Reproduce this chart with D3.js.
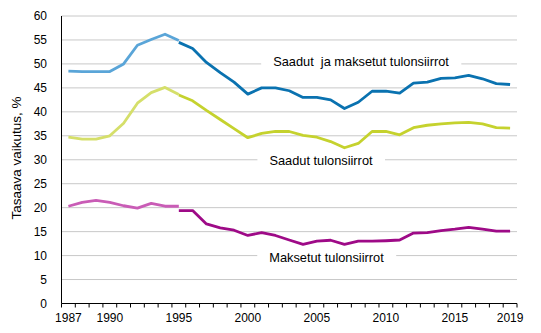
<!DOCTYPE html>
<html><head><meta charset="utf-8">
<script src="https://cdn.jsdelivr.net/npm/d3@7"></script>
<style>body{margin:0;background:#fff}svg{display:block;font-family:"Liberation Sans",Arial,sans-serif}</style>
</head><body><svg id="c" width="541" height="333"></svg>
<script>
const years = d3.range(1987, 2020);
const yTicks = [0,5,10,15,20,25,30,35,40,45,50,55,60];
const xLabels = [1987,1990,1995,2000,2005,2010,2015,2019];
// 1987-1995 (old series)
const totalOld = [48.5,48.4,48.4,48.4,50.0,53.9,55.1,56.2,54.9];
const receivedOld = [34.7,34.3,34.3,35.0,37.6,41.8,44.0,45.1,43.6];
const paidOld = [20.3,21.1,21.5,21.1,20.4,19.9,20.9,20.3,20.3];
// 1995-2019 (new series)
const totalNew = [54.5,53.2,50.3,48.2,46.2,43.7,45.0,45.0,44.4,43.0,43.0,42.5,40.7,42.0,44.3,44.3,43.9,46.0,46.2,47.0,47.1,47.6,46.9,45.9,45.7];
const receivedNew = [43.5,42.3,40.3,38.4,36.5,34.6,35.5,35.9,35.9,35.1,34.7,33.8,32.5,33.4,35.9,35.9,35.2,36.7,37.2,37.5,37.7,37.8,37.5,36.7,36.6];
const paidNew = [19.4,19.4,16.6,15.8,15.3,14.2,14.8,14.2,13.25,12.35,13.0,13.2,12.35,13.0,13.0,13.1,13.25,14.7,14.8,15.2,15.5,15.9,15.5,15.1,15.1];
const labels = [
  {text:"Saadut  ja maksetut tulonsiirrot", year:2008.2, v:50.6},
  {text:"Saadut tulonsiirrot", year:2005.3, v:29.8},
  {text:"Maksetut tulonsiirrot", year:2005.7, v:9.7}
];

const svg = d3.select("#c");
const L=61.5, R=517, T=16, B=303.5;
const x = d3.scaleBand().domain(years).range([L,R]);
const y = d3.scaleLinear().domain([0,60]).range([B,T]);
const cx = yr => x(yr) + x.bandwidth()/2;
const cxf = yr => cx(Math.floor(yr)) + (yr - Math.floor(yr)) * x.step();

// gridlines
svg.append("g").selectAll("line").data(yTicks.filter(d=>d>0)).join("line")
  .attr("x1",L).attr("x2",R).attr("y1",d=>y(d)).attr("y2",d=>y(d))
  .attr("stroke","#c8c8c8").attr("stroke-width",1);

// y tick labels
svg.append("g").selectAll("text").data(yTicks).join("text")
  .attr("x",47).attr("y",d=>y(d)).attr("dy","0.35em").attr("text-anchor","end")
  .attr("font-size",12).attr("fill","#000").text(d=>d);

// y title
svg.append("text").attr("transform",`translate(16,${158}) rotate(-90)`)
  .attr("text-anchor","middle").attr("font-size",13.5).attr("dy","0.35em").text("Tasaava vaikutus, %");

// axes lines
svg.append("line").attr("x1",L).attr("x2",L).attr("y1",T).attr("y2",B).attr("stroke","#000");
svg.append("line").attr("x1",L).attr("x2",R).attr("y1",B).attr("y2",B).attr("stroke","#000");
const bounds = years.map(d=>x(d)).concat([R]);
svg.append("g").selectAll("line").data(bounds).join("line")
  .attr("x1",d=>d).attr("x2",d=>d).attr("y1",B).attr("y2",B+4).attr("stroke","#000");
svg.append("g").selectAll("text").data(xLabels).join("text")
  .attr("x",d=>cx(d)).attr("y",B+18).attr("text-anchor","middle").attr("font-size",12).text(d=>d);

// labels with white boxes
labels.forEach(l=>{
  const g = svg.append("g");
  const t = g.append("text").attr("x",cxf(l.year)).attr("y",y(l.v)).attr("dy","0.35em")
    .attr("text-anchor","middle").attr("font-size",12.8).attr("fill","#000").text(l.text).attr("xml:space","preserve");
  const bb = t.node().getBBox();
  g.insert("rect","text").attr("x",bb.x-12).attr("y",bb.y).attr("width",bb.width+24).attr("height",bb.height).attr("fill","#fff");
});

const line = d3.line().x(d=>cx(d[0])).y(d=>y(d[1])).curve(d3.curveLinear);
const oldYears = years.slice(0,9), newYears = years.slice(8);
const series = [
  {vals:totalOld, yrs:oldYears, color:"#5aa5d8"},
  {vals:totalNew, yrs:newYears, color:"#0a72b0"},
  {vals:receivedOld, yrs:oldYears, color:"#d5df6a"},
  {vals:receivedNew, yrs:newYears, color:"#c5d22e"},
  {vals:paidOld, yrs:oldYears, color:"#c95cb6"},
  {vals:paidNew, yrs:newYears, color:"#9e0a87"}
];
series.forEach(s=>{
  svg.append("path").datum(s.yrs.map((yr,i)=>[yr,s.vals[i]]))
    .attr("d",line).attr("fill","none").attr("stroke",s.color).attr("stroke-width",2.8)
    .attr("stroke-linejoin","round");
});
</script></body></html>
